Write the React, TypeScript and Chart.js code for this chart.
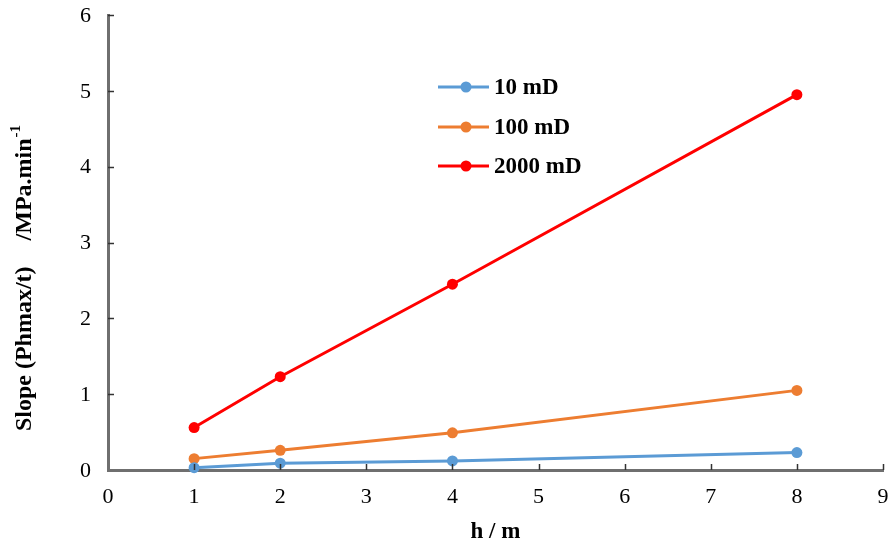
import React, { useEffect, useRef } from "react";
import { Chart, registerables } from "chart.js";

Chart.register(...registerables);

const thickness = [1, 2, 4, 8];
const perm10 = [0.03, 0.09, 0.12, 0.23];
const perm100 = [0.15, 0.26, 0.49, 1.05];
const perm2000 = [0.56, 1.23, 2.45, 4.95];
const seriesLabels = ["10 mD", "100 mD", "2000 mD"];
const seriesColors = ["#5b9bd5", "#ed7d31", "#ff0000"];
const xTickValues = [0, 1, 2, 3, 4, 5, 6, 7, 8, 9];
const yTickValues = [0, 1, 2, 3, 4, 5, 6];
const xTitle = "h / m";
const yTitlePart1 = "Slope (Phmax/t)";
const yTitlePart2 = "/MPa.min";
const yTitleSup = "-1";

const SERIF = "'Liberation Serif', 'Times New Roman', serif";

const decorPlugin = {
  id: "decor",
  afterDraw(chart: any) {
    const ctx = chart.ctx as CanvasRenderingContext2D;
    const xs = chart.scales.x;
    const ys = chart.scales.y;
    const area = chart.chartArea;
    ctx.save();
    // inward tick marks
    ctx.strokeStyle = "#333";
    ctx.lineWidth = 1.5;
    xTickValues.forEach((v) => {
      if (v === 0) return;
      const px = Math.round(xs.getPixelForValue(v)) + 0.5;
      ctx.beginPath();
      ctx.moveTo(px, area.bottom);
      ctx.lineTo(px, area.bottom - 6);
      ctx.stroke();
    });
    yTickValues.forEach((v) => {
      if (v === 0) return;
      const py = Math.round(ys.getPixelForValue(v)) + 0.5;
      ctx.beginPath();
      ctx.moveTo(area.left, py);
      ctx.lineTo(area.left + 6, py);
      ctx.stroke();
    });
    // tick labels
    ctx.fillStyle = "#000";
    ctx.font = `22px ${SERIF}`;
    ctx.textAlign = "center";
    ctx.textBaseline = "middle";
    xTickValues.forEach((v) => {
      ctx.fillText(String(v), xs.getPixelForValue(v), 497);
    });
    ctx.textAlign = "right";
    yTickValues.forEach((v) => {
      ctx.fillText(String(v), 91, ys.getPixelForValue(v) + 1);
    });
    // x title
    ctx.font = `bold 23px ${SERIF}`;
    ctx.textAlign = "center";
    ctx.fillText(xTitle, (area.left + area.right) / 2, 532);
    // y title (rotated)
    ctx.save();
    ctx.translate(25, 278);
    ctx.rotate(-Math.PI / 2);
    ctx.font = `bold 24px ${SERIF}`;
    const w1 = ctx.measureText(yTitlePart1).width;
    const w2 = ctx.measureText(yTitlePart2).width;
    ctx.font = `bold 15px ${SERIF}`;
    const wSup = ctx.measureText(yTitleSup).width;
    const gap = 26;
    const total = w1 + gap + w2 + wSup + 1;
    ctx.textAlign = "left";
    ctx.textBaseline = "middle";
    ctx.font = `bold 24px ${SERIF}`;
    let cx = -total / 2;
    ctx.fillText(yTitlePart1, cx, 0);
    cx += w1 + gap;
    ctx.fillText(yTitlePart2, cx, 0);
    cx += w2 + 1;
    ctx.font = `bold 15px ${SERIF}`;
    ctx.fillText(yTitleSup, cx, -9);
    ctx.restore();
    // legend
    const rows = [87, 127, 166];
    ctx.font = `bold 23px ${SERIF}`;
    ctx.textAlign = "left";
    ctx.textBaseline = "middle";
    seriesLabels.forEach((lab, i) => {
      const y = rows[i];
      ctx.strokeStyle = seriesColors[i];
      ctx.lineWidth = 3;
      ctx.beginPath();
      ctx.moveTo(438, y);
      ctx.lineTo(489, y);
      ctx.stroke();
      ctx.fillStyle = seriesColors[i];
      ctx.beginPath();
      ctx.arc(466, y, 5.5, 0, Math.PI * 2);
      ctx.fill();
      ctx.fillStyle = "#000";
      ctx.fillText(lab, 494, y + 1);
    });
    ctx.restore();
  },
};

export default function App() {
  const ref = useRef<HTMLCanvasElement | null>(null);
  useEffect(() => {
    document.body.style.margin = "0";
    const canvas = ref.current!;
    const mk = (vals: number[]) => thickness.map((x, i) => ({ x, y: vals[i] }));
    const allVals = [perm10, perm100, perm2000];
    const chart = new Chart(canvas, {
      type: "line",
      data: {
        datasets: allVals.map((vals, i) => ({
          label: seriesLabels[i],
          data: mk(vals),
          borderColor: seriesColors[i],
          backgroundColor: seriesColors[i],
          borderWidth: 3,
          pointRadius: 5.5,
          pointHoverRadius: 5.5,
          pointBorderWidth: 0,
          tension: 0,
          clip: false as any,
        })),
      },
      options: {
        animation: false,
        responsive: false,
        maintainAspectRatio: false,
        events: [],
        layout: { padding: { top: 15, right: 8, left: 0, bottom: 0 } },
        plugins: { legend: { display: false }, tooltip: { enabled: false }, title: { display: false } },
        scales: {
          x: {
            type: "linear",
            min: 0,
            max: 9,
            afterFit: (s: any) => {
              s.height = 76;
              s.paddingLeft = 0;
              s.paddingRight = 0;
            },
            afterBuildTicks: (s: any) => {
              s.ticks = xTickValues.map((v) => ({ value: v }));
            },
            grid: { display: false, drawTicks: false },
            border: { display: true, color: "#6f6f6f", width: 3 },
            ticks: { display: false },
          },
          y: {
            type: "linear",
            min: 0,
            max: 6,
            afterFit: (s: any) => {
              s.width = 108;
              s.paddingTop = 0;
              s.paddingBottom = 0;
            },
            afterBuildTicks: (s: any) => {
              s.ticks = yTickValues.map((v) => ({ value: v }));
            },
            grid: { display: false, drawTicks: false },
            border: { display: true, color: "#6f6f6f", width: 3 },
            ticks: { display: false },
          },
        },
      },
      plugins: [decorPlugin],
    });
    return () => chart.destroy();
  }, []);
  return (
    <div style={{ width: 891, height: 546, background: "#fff" }}>
      <canvas ref={ref} width={891} height={546} style={{ display: "block", width: 891, height: 546 }} />
    </div>
  );
}
